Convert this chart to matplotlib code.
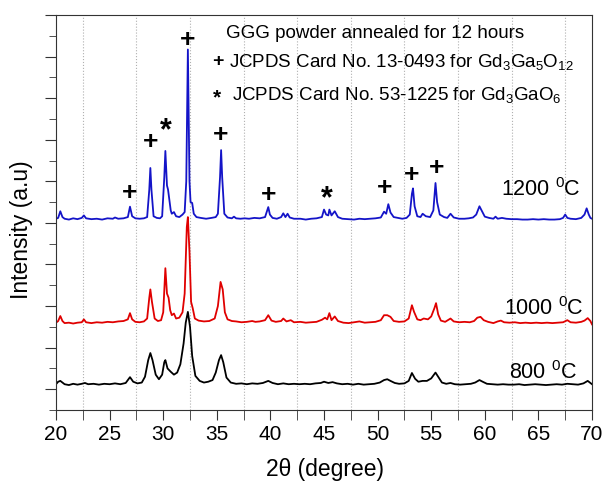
import numpy as np
import matplotlib.pyplot as plt
from matplotlib.ticker import MultipleLocator

plt.rcParams['font.family'] = ['Liberation Sans', 'DejaVu Sans']
plt.rcParams['mathtext.fontset'] = 'custom'
plt.rcParams['mathtext.rm'] = 'Liberation Sans'
plt.rcParams['mathtext.it'] = 'Liberation Sans:italic'

# patrones (2theta, intensidad desplazada)
x1200 = [20.0, 20.2, 20.4, 20.6, 20.8, 21.2, 21.6, 22.0, 22.4, 22.6, 22.8, 23.3, 23.8, 24.3, 24.8, 25.3, 25.5, 25.8,
         26.3, 26.7, 26.9, 27.1, 27.4, 27.8, 28.2, 28.5, 28.7, 28.8, 28.9, 29.1, 29.4, 29.7, 29.9, 30.1, 30.2, 30.35,
         30.45, 30.55, 30.7, 30.8, 31.0, 31.2, 31.5, 31.8, 32.0, 32.15, 32.3, 32.45, 32.55, 32.7, 32.85, 33.1, 33.5,
         34.0, 34.5, 34.9, 35.1, 35.3, 35.4, 35.5, 35.7, 36.0, 36.4, 36.6, 36.8, 37.2, 37.6, 38.0, 38.5, 39.0, 39.5,
         39.7, 39.8, 39.95, 40.2, 40.6, 41.0, 41.2, 41.4, 41.6, 41.8, 42.2, 42.8, 43.3, 43.8, 44.3, 44.8, 45.0, 45.2,
         45.4, 45.5, 45.7, 46.0, 46.3, 46.7, 47.2, 47.8, 48.3, 48.8, 49.3, 49.8, 50.3, 50.6, 50.8, 51.0, 51.2, 51.5,
         51.9, 52.3, 52.7, 53.0, 53.2, 53.3, 53.45, 53.7, 54.0, 54.2, 54.5, 54.9, 55.2, 55.4, 55.55, 55.8, 56.2, 56.5,
         56.8, 57.1, 57.6, 58.1, 58.5, 58.9, 59.2, 59.5, 59.7, 60.0, 60.4, 60.8, 61.0, 61.2, 61.6, 62.0, 62.5, 63.0,
         63.5, 64.0, 64.5, 65.0, 65.5, 66.0, 66.5, 67.0, 67.3, 67.5, 67.7, 68.0, 68.5, 69.0, 69.3, 69.5, 69.7, 69.85,
         70.0]
y1200 = [4.60, 4.62, 4.78, 4.64, 4.60, 4.58, 4.61, 4.59, 4.62, 4.68, 4.61, 4.59, 4.60, 4.58, 4.61, 4.60, 4.63, 4.60,
         4.61, 4.64, 4.89, 4.66, 4.61, 4.60, 4.61, 4.64, 5.30, 5.82, 5.30, 4.66, 4.62, 4.61, 4.66, 5.60, 6.23, 5.40,
         5.30, 5.10, 4.80, 4.72, 4.76, 4.66, 4.64, 4.70, 4.76, 5.50, 8.67, 5.50, 5.00, 4.98, 4.72, 4.64, 4.62,
         4.60, 4.62, 4.64, 4.72, 5.60, 6.25, 5.60, 4.72, 4.63, 4.61, 4.65, 4.61, 4.60, 4.61, 4.60, 4.62, 4.61, 4.64,
         4.80, 4.88, 4.70, 4.62, 4.60, 4.64, 4.73, 4.64, 4.72, 4.63, 4.60, 4.60, 4.58, 4.60, 4.61, 4.64, 4.82, 4.70,
         4.68, 4.82, 4.68, 4.78, 4.64, 4.60, 4.59, 4.58, 4.60, 4.59, 4.60, 4.61, 4.63, 4.77, 4.72, 4.95, 4.75, 4.64,
         4.62, 4.60, 4.62, 4.70, 5.20, 5.33, 4.90, 4.66, 4.64, 4.72, 4.66, 4.64, 4.80, 5.46, 5.00, 4.70, 4.64, 4.62,
         4.72, 4.63, 4.60, 4.60, 4.61, 4.63, 4.70, 4.90, 4.80, 4.65, 4.62, 4.60, 4.65, 4.60, 4.62, 4.60, 4.59, 4.59,
         4.58, 4.58, 4.59, 4.58, 4.59, 4.58, 4.58, 4.59, 4.62, 4.70, 4.62, 4.60, 4.59, 4.62, 4.70, 4.85, 4.70, 4.62,
         4.60]

x1000 = [20.0, 20.2, 20.4, 20.6, 20.8, 21.2, 21.6, 22.0, 22.4, 22.6, 22.8, 23.3, 23.8, 24.3, 24.8, 25.3, 25.8, 26.3,
         26.7, 26.9, 27.1, 27.4, 27.8, 28.2, 28.5, 28.7, 28.8, 28.95, 29.2, 29.5, 29.8, 30.0, 30.2, 30.35, 30.5, 30.65,
         30.8, 31.0, 31.2, 31.5, 31.8, 32.0, 32.2, 32.3, 32.45, 32.6, 32.75, 32.95, 33.3, 33.8, 34.3, 34.8, 35.1,
         35.35, 35.55, 35.75, 36.0, 36.4, 36.8, 37.3, 37.8, 38.3, 38.6, 39.0, 39.5, 39.8, 40.1, 40.5, 41.0, 41.2,
         41.5, 41.9, 42.2, 42.8, 43.3, 43.8, 44.3, 44.8, 45.1, 45.3, 45.5, 45.7, 46.0, 46.3, 46.8, 47.3, 47.8, 48.3,
         48.8, 49.3, 49.8, 50.3, 50.6, 50.9, 51.2, 51.5, 52.0, 52.5, 52.9, 53.2, 53.4, 53.7, 54.0, 54.3, 54.7, 55.0,
         55.3, 55.45, 55.65, 55.9, 56.3, 56.8, 57.1, 57.6, 58.1, 58.6, 59.0, 59.3, 59.6, 59.9, 60.3, 60.8, 61.2,
         61.5, 61.8, 62.3, 62.8, 63.3, 63.8, 64.3, 64.8, 65.3, 65.8, 66.3, 66.8, 67.3, 67.7, 68.0, 68.5, 69.0, 69.3,
         69.6, 69.85, 70.0]
y1000 = [2.10, 2.14, 2.26, 2.14, 2.09, 2.10, 2.08, 2.10, 2.11, 2.18, 2.11, 2.09, 2.11, 2.10, 2.12, 2.11, 2.13, 2.14,
         2.18, 2.33, 2.18, 2.12, 2.11, 2.13, 2.20, 2.70, 2.90, 2.60, 2.20, 2.14, 2.16, 2.35, 3.41, 2.80, 2.70, 2.40,
         2.28, 2.32, 2.20, 2.22, 2.35, 2.80, 4.40, 4.64, 3.80, 2.60, 2.45, 2.20, 2.15, 2.13, 2.14, 2.20, 2.50,
         3.08, 2.90, 2.35, 2.18, 2.14, 2.13, 2.11, 2.12, 2.14, 2.12, 2.13, 2.16, 2.28, 2.15, 2.12, 2.14, 2.20,
         2.13, 2.16, 2.11, 2.12, 2.10, 2.11, 2.12, 2.17, 2.22, 2.18, 2.33, 2.16, 2.25, 2.14, 2.10, 2.09, 2.11, 2.13,
         2.10, 2.11, 2.12, 2.16, 2.28, 2.28, 2.24, 2.14, 2.12, 2.13, 2.20, 2.52, 2.36, 2.18, 2.16, 2.20, 2.18, 2.25,
         2.45, 2.57, 2.30, 2.15, 2.12, 2.20, 2.13, 2.11, 2.12, 2.11, 2.14, 2.22, 2.24, 2.16, 2.12, 2.09, 2.13,
         2.15, 2.11, 2.10, 2.11, 2.09, 2.10, 2.09, 2.10, 2.09, 2.10, 2.09, 2.10, 2.11, 2.16, 2.11, 2.10, 2.12, 2.15,
         2.21, 2.14, 2.06]

x800 = [20.0, 20.2, 20.4, 20.6, 20.8, 21.2, 21.6, 22.0, 22.4, 22.7, 23.0, 23.5, 24.0, 24.5, 25.0, 25.5, 26.0, 26.5,
        26.9, 27.2, 27.6, 28.0, 28.3, 28.6, 28.8, 29.0, 29.3, 29.6, 29.9, 30.1, 30.2, 30.4, 30.7, 31.0, 31.3, 31.6,
        31.9, 32.1, 32.3, 32.5, 32.7, 33.0, 33.4, 33.8, 34.2, 34.6, 34.9, 35.2, 35.4, 35.6, 35.9, 36.3, 36.8, 37.3,
        37.8, 38.3, 38.8, 39.3, 39.8, 40.2, 40.7, 41.2, 41.7, 42.2, 42.7, 43.2, 43.7, 44.2, 44.7, 45.0, 45.4, 45.8,
        46.2, 46.7, 47.2, 47.7, 48.2, 48.7, 49.2, 49.7, 50.2, 50.6, 50.9, 51.2, 51.6, 52.0, 52.5, 52.9, 53.2, 53.5,
        53.8, 54.2, 54.6, 55.0, 55.4, 55.7, 56.0, 56.4, 56.8, 57.2, 57.7, 58.2, 58.7, 59.1, 59.5, 59.8, 60.2, 60.7,
        61.2, 61.7, 62.2, 62.7, 63.2, 63.7, 64.2, 64.7, 65.2, 65.7, 66.2, 66.7, 67.2, 67.7, 68.2, 68.7, 69.2, 69.6,
        69.9, 70.0]
y800 = [0.62, 0.68, 0.70, 0.66, 0.62, 0.60, 0.63, 0.61, 0.63, 0.65, 0.62, 0.63, 0.61, 0.63, 0.62, 0.64, 0.62, 0.65,
        0.79, 0.68, 0.64, 0.66, 0.80, 1.20, 1.37, 1.20, 0.85, 0.74, 0.85, 1.15, 1.20, 1.00, 0.92, 0.85, 0.90, 1.10,
        1.60, 2.10, 2.36, 2.00, 1.30, 0.82, 0.70, 0.66, 0.68, 0.72, 0.90, 1.20, 1.32, 1.15, 0.78, 0.66, 0.63, 0.64,
        0.62, 0.64, 0.63, 0.65, 0.70, 0.65, 0.62, 0.64, 0.62, 0.63, 0.62, 0.63, 0.62, 0.64, 0.65, 0.68, 0.65, 0.67,
        0.64, 0.62, 0.63, 0.61, 0.63, 0.61, 0.62, 0.63, 0.66, 0.72, 0.74, 0.70, 0.65, 0.63, 0.64, 0.70, 0.89, 0.75,
        0.68, 0.70, 0.70, 0.76, 0.90, 0.78, 0.66, 0.63, 0.65, 0.62, 0.61, 0.62, 0.63, 0.66, 0.72, 0.68, 0.63, 0.62,
        0.61, 0.62, 0.61, 0.61, 0.62, 0.60, 0.61, 0.62, 0.61, 0.60, 0.61, 0.62, 0.61, 0.63, 0.62, 0.61, 0.64, 0.70,
        0.64, 0.62]

# marcas de fase sobre el patron de 1200 C
marcaX = [26.9, 28.8, 30.2, 32.3, 35.4, 39.8, 45.3, 50.7, 53.2, 55.5]
marcaY = [5.22, 6.44, 6.70, 8.89, 6.61, 5.17, 5.08, 5.34, 5.65, 5.82]
marcaTxt = ['+', '+', '*', '+', '+', '+', '*', '+', '+', '+']

fig = plt.figure(figsize=(6.07, 4.84), dpi=100)
ax = fig.add_axes([0.0923, 0.1529, 0.8830, 0.8161])

ax.plot(x800, y800, color='black', lw=1.3)
ax.plot(x1000, y1000, color='#e00000', lw=1.3)
ax.plot(x1200, y1200, color='#1414c8', lw=1.3)

for xm, ym, t in zip(marcaX, marcaY, marcaTxt):
    if t == '+':
        ax.text(xm, ym, '+', fontsize=19, fontweight='bold', ha='center', va='center')
    else:
        ax.text(xm, ym, '*', fontsize=22, fontweight='bold', ha='center', va='center')

ax.text(35.9, 9.06, 'GGG powder annealed for 12 hours', fontsize=13.5, va='center')
ax.text(35.05, 8.37, '+', fontsize=14, fontweight='bold', ha='center', va='center')
ax.text(36.1, 8.37, r'JCPDS Card No. 13-0493 for Gd$_3$Ga$_5$O$_{12}$', fontsize=13.5, va='center')
ax.text(35.0, 7.50, '*', fontsize=15, fontweight='bold', ha='center', va='center')
ax.text(36.4, 7.57, r'JCPDS Card No. 53-1225 for Gd$_3$GaO$_6$', fontsize=13.5, va='center')

ax.text(68.9, 5.29, r'1200 $^{0}$C', fontsize=15.5, ha='right', va='center')
ax.text(69.2, 2.45, r'1000 $^{0}$C', fontsize=15.5, ha='right', va='center')
ax.text(68.6, 0.91, r'800 $^{0}$C', fontsize=15.5, ha='right', va='center')

ax.set_xlim(20, 70)
ax.set_ylim(0, 9.5)
ax.xaxis.set_major_locator(MultipleLocator(5))
ax.xaxis.set_minor_locator(MultipleLocator(2.5))
ax.set_yticks(np.arange(0.5, 9.6, 1.0))
ax.set_yticks(np.arange(0, 9.6, 1.0), minor=True)
ax.set_yticklabels([])

ax.grid(which='minor', axis='x', linestyle=':', color='#b0b0b0', lw=0.8)
ax.tick_params(which='both', direction='out', labelsize=15, color='#333333')
ax.tick_params(axis='x', which='both', length=7)
ax.tick_params(axis='y', which='major', length=8)
ax.tick_params(axis='y', which='minor', length=5)
for s in ax.spines.values():
    s.set_color('#333333')

ax.set_xlabel('2θ (degree)', fontsize=16.5, va='center')
ax.set_ylabel('Intensity (a.u)', fontsize=16.5, va='center')
ax.xaxis.set_label_coords(0.501, -0.150)
ax.yaxis.set_label_coords(-0.065, 0.456)

fig.savefig('out.png', dpi=100)
